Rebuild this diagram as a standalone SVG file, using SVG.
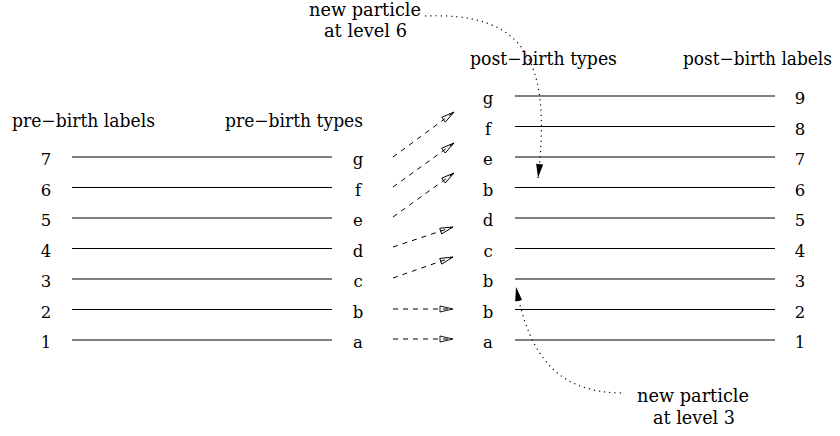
<svg xmlns="http://www.w3.org/2000/svg" width="840" height="436" viewBox="0 0 840 436">
<style>
  text { font-family: "DejaVu Serif", serif; fill: #000; }
  .hdr { font-size: 18px; }
  .note { font-size: 18.5px; text-anchor: middle; }
  .lbl { font-size: 16.5px; text-anchor: middle; }
  .lvl { stroke: #000; stroke-width: 1.2; fill: none; }
  .dash { stroke: #000; stroke-width: 1; fill: none; stroke-dasharray: 5 5; marker-end: url(#open); }
  .dot { stroke: #000; stroke-width: 1.2; fill: none; stroke-dasharray: 1.2 4; marker-end: url(#solid); }
</style>
<defs>
  <marker id="open" markerUnits="userSpaceOnUse" markerWidth="16" markerHeight="10" refX="13" refY="3" orient="auto" overflow="visible">
    <path d="M0,0 L13,3 L0,6 Z" fill="none" stroke="#000" stroke-width="0.9"/>
  </marker>
  <marker id="solid" markerUnits="userSpaceOnUse" markerWidth="16" markerHeight="10" refX="14" refY="3.5" orient="auto" overflow="visible">
    <path d="M0,0 L14,3.5 L0,7 Z" fill="#000" stroke="none"/>
  </marker>
</defs>
<rect width="840" height="436" fill="#fff"/>

<g id="headers">
  <text class="hdr" x="12" y="127" textLength="143" lengthAdjust="spacingAndGlyphs">pre−birth labels</text>
  <text class="hdr" x="225" y="127" textLength="138" lengthAdjust="spacingAndGlyphs">pre−birth types</text>
  <text class="hdr" x="470" y="65" textLength="147" lengthAdjust="spacingAndGlyphs">post−birth types</text>
  <text class="hdr" x="683" y="65" font-size="17.5" textLength="149" lengthAdjust="spacingAndGlyphs">post−birth labels</text>
</g>

<g id="pre-birth">
  <g id="pre-7"><line class="lvl" x1="72" y1="157" x2="332" y2="157"/><text class="lbl" x="46" y="165">7</text><text class="lbl" x="358" y="165">g</text></g>
  <g id="pre-6"><line class="lvl" x1="72" y1="187.5" x2="332" y2="187.5"/><text class="lbl" x="46" y="195.5">6</text><text class="lbl" x="358" y="195.5">f</text></g>
  <g id="pre-5"><line class="lvl" x1="72" y1="218" x2="332" y2="218"/><text class="lbl" x="46" y="226">5</text><text class="lbl" x="358" y="226">e</text></g>
  <g id="pre-4"><line class="lvl" x1="72" y1="248.5" x2="332" y2="248.5"/><text class="lbl" x="46" y="256.5">4</text><text class="lbl" x="358" y="256.5">d</text></g>
  <g id="pre-3"><line class="lvl" x1="72" y1="279" x2="332" y2="279"/><text class="lbl" x="46" y="287">3</text><text class="lbl" x="358" y="287">c</text></g>
  <g id="pre-2"><line class="lvl" x1="72" y1="309.5" x2="332" y2="309.5"/><text class="lbl" x="46" y="317.5">2</text><text class="lbl" x="358" y="317.5">b</text></g>
  <g id="pre-1"><line class="lvl" x1="72" y1="340" x2="332" y2="340"/><text class="lbl" x="46" y="348">1</text><text class="lbl" x="358" y="348">a</text></g>
</g>

<g id="post-birth">
  <g id="post-9"><line class="lvl" x1="515" y1="96" x2="775" y2="96"/><text class="lbl" x="488" y="104">g</text><text class="lbl" x="800" y="104">9</text></g>
  <g id="post-8"><line class="lvl" x1="515" y1="126.5" x2="775" y2="126.5"/><text class="lbl" x="488" y="134.5">f</text><text class="lbl" x="800" y="134.5">8</text></g>
  <g id="post-7"><line class="lvl" x1="515" y1="157" x2="775" y2="157"/><text class="lbl" x="488" y="165">e</text><text class="lbl" x="800" y="165">7</text></g>
  <g id="post-6"><line class="lvl" x1="515" y1="187.5" x2="775" y2="187.5"/><text class="lbl" x="488" y="195.5">b</text><text class="lbl" x="800" y="195.5">6</text></g>
  <g id="post-5"><line class="lvl" x1="515" y1="218" x2="775" y2="218"/><text class="lbl" x="488" y="226">d</text><text class="lbl" x="800" y="226">5</text></g>
  <g id="post-4"><line class="lvl" x1="515" y1="248.5" x2="775" y2="248.5"/><text class="lbl" x="488" y="256.5">c</text><text class="lbl" x="800" y="256.5">4</text></g>
  <g id="post-3"><line class="lvl" x1="515" y1="279" x2="775" y2="279"/><text class="lbl" x="488" y="287">b</text><text class="lbl" x="800" y="287">3</text></g>
  <g id="post-2"><line class="lvl" x1="515" y1="309.5" x2="775" y2="309.5"/><text class="lbl" x="488" y="317.5">b</text><text class="lbl" x="800" y="317.5">2</text></g>
  <g id="post-1"><line class="lvl" x1="515" y1="340" x2="775" y2="340"/><text class="lbl" x="488" y="348">a</text><text class="lbl" x="800" y="348">1</text></g>
</g>

<g id="note-6">
  <text class="note" x="365" y="16" textLength="112" lengthAdjust="spacingAndGlyphs">new particle</text>
  <text class="note" x="365.5" y="37" textLength="83" lengthAdjust="spacingAndGlyphs">at level 6</text>
</g>
<g id="note-3">
  <text class="note" x="693" y="402" textLength="112" lengthAdjust="spacingAndGlyphs">new particle</text>
  <text class="note" x="694" y="424" textLength="82" lengthAdjust="spacingAndGlyphs">at level 3</text>
</g>

<g id="connectors">
  <line class="dash" x1="393" y1="157" x2="454" y2="112"/>
  <line class="dash" x1="393" y1="187" x2="454" y2="143"/>
  <line class="dash" x1="393" y1="217" x2="454" y2="173"/>
  <line class="dash" x1="393" y1="247" x2="453" y2="227"/>
  <line class="dash" x1="393" y1="278" x2="453" y2="257"/>
  <line class="dash" x1="393" y1="309" x2="453" y2="309"/>
  <line class="dash" x1="393" y1="339" x2="453" y2="339"/>
  <path class="dot" d="M425,16 C525,12 552,60 538,178"/>
  <path class="dot" d="M621,393 C560,392 530,360 516,287"/>
</g>
</svg>
